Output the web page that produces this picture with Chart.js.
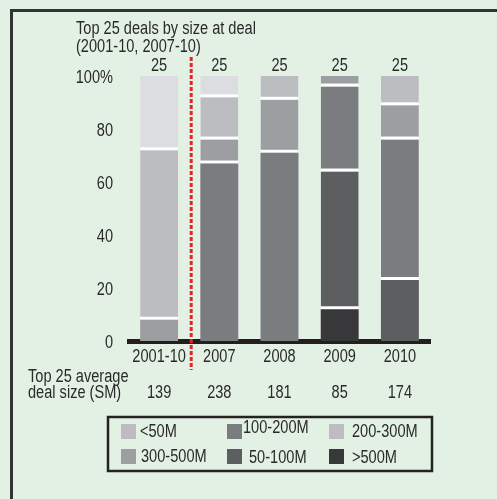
<!DOCTYPE html>
<html>
<head>
<meta charset="utf-8">
<script src="https://cdn.jsdelivr.net/npm/chart.js@4.4.1/dist/chart.umd.min.js"></script>
<style>
  html, body { margin: 0; padding: 0; background: #e3f1e5; }
  #wrap { width: 497px; height: 499px; position: relative; }
</style>
</head>
<body>
<div id="wrap"><canvas id="chart" width="497" height="499"></canvas></div>
<script>
// categories and values (percent of top 25 deals)
const periods = ["2001-10", "2007", "2008", "2009", "2010"];
const dealCounts = [25, 25, 25, 25, 25];
const avgDealSize = [139, 238, 181, 85, 174];

const over500 = [0, 0, 0, 12, 0];
const s50to100 = [0, 0, 0, 52, 23];
const s100to200 = [0, 67, 71, 32, 53];
const s300to500 = [8, 9, 20, 4, 13];
const s200to300 = [64, 16, 9, 0, 11];
const under50 = [28, 8, 0, 0, 0];

const yTicks = [0, 20, 40, 60, 80, 100];

const FONT = '"Liberation Sans", Arial, sans-serif';
const INK = "#2a2a2a";
const SQUEEZE = 0.81; // the original uses a narrow face

// white gap above every segment that sits on another one
function gapBorder(ctx) {
  const sets = ctx.chart.data.datasets;
  for (let k = 0; k < ctx.datasetIndex; k++) {
    if (sets[k].data[ctx.dataIndex] > 0) return { top: 0, left: 0, right: 0, bottom: 3 };
  }
  return 0;
}

function seg(label, data, color) {
  return {
    label: label,
    data: data,
    backgroundColor: color,
    borderColor: "#ffffff",
    borderWidth: gapBorder,
    borderSkipped: false,
    barPercentage: 0.63,
    categoryPercentage: 1
  };
}

function narrow(ctx, text, x, y, align) {
  ctx.save();
  ctx.translate(x, y);
  ctx.scale(SQUEEZE, 1);
  ctx.textAlign = align;
  ctx.textBaseline = "alphabetic";
  ctx.font = "18px " + FONT;
  ctx.fillStyle = INK;
  ctx.fillText(text, 0, 0);
  ctx.restore();
}

// legend as laid out in the box: label, col, row, text dx, text dy, swatch colour
const legendItems = [
  ["<50M", 0, 0, 19, 0, "#bcbcc0"],
  ["100-200M", 1, 0, 16, -4, "#7b7c80"],
  ["200-300M", 2, 0, 23, 0, "#bcbdc0"],
  ["300-500M", 0, 1, 20, 0, "#9d9ea2"],
  ["50-100M", 1, 1, 22, 1, "#5d5e60"],
  [">500M", 2, 1, 23, 1, "#38383a"]
];

const extras = {
  id: "extras",
  beforeDraw(chart) {
    const ctx = chart.ctx;
    ctx.save();
    ctx.strokeStyle = "#333";
    ctx.lineWidth = 3;
    ctx.beginPath();
    ctx.moveTo(11.5, 499);
    ctx.lineTo(11.5, 10.5);
    ctx.lineTo(497, 10.5);
    ctx.stroke();
    ctx.restore();
  },
  afterDraw(chart) {
    const ctx = chart.ctx;
    const x = chart.scales.x;
    const y = chart.scales.y;
    const area = chart.chartArea;

    narrow(ctx, "Top 25 deals by size at deal", 76, 34, "left");
    narrow(ctx, "(2001-10, 2007-10)", 76, 52, "left");
    narrow(ctx, "Top 25 average", 28, 382, "left");
    narrow(ctx, "deal size (SM)", 28, 398, "left");

    // y tick labels from the scale's ticks
    y.ticks.forEach((t) => {
      const txt = t.value === 100 ? "100%" : String(t.value);
      narrow(ctx, txt, 113, y.getPixelForValue(t.value) + 6.5, "right");
    });

    periods.forEach((p, i) => {
      const px = x.getPixelForValue(i);
      narrow(ctx, String(dealCounts[i]), px, 71, "center");
      narrow(ctx, p, px, 362, "center");
      narrow(ctx, String(avgDealSize[i]), px, 398, "center");
    });

    ctx.save();
    // red divider between the decade and the single years
    const xm = (x.getPixelForValue(0) + x.getPixelForValue(1)) / 2 + 2;
    ctx.strokeStyle = "#e3262b";
    ctx.lineWidth = 3;
    ctx.setLineDash([4, 2]);
    ctx.beginPath();
    ctx.moveTo(xm, area.top - 19);
    ctx.lineTo(xm, area.bottom + 29);
    ctx.stroke();
    ctx.setLineDash([]);

    // legend box
    ctx.strokeStyle = "#222";
    ctx.lineWidth = 2.5;
    ctx.strokeRect(108, 417, 324, 54);
    const colX = [121, 227, 329];
    const rowY = [424, 449];
    legendItems.forEach(([label, c, r, dx, dy, color]) => {
      ctx.fillStyle = color;
      ctx.fillRect(colX[c], rowY[r], 15, 15);
      narrow(ctx, label, colX[c] + dx, rowY[r] + 13 + dy, "left");
    });
    ctx.restore();
  }
};

new Chart(document.getElementById("chart"), {
  type: "bar",
  data: {
    labels: periods,
    datasets: [
      seg(">500M", over500, "#38383a"),
      seg("50-100M", s50to100, "#5d5e60"),
      seg("100-200M", s100to200, "#7b7c80"),
      seg("300-500M", s300to500, "#9d9ea2"),
      seg("200-300M", s200to300, "#bcbdc0"),
      seg("<50M", under50, "#dcdde0")
    ]
  },
  options: {
    responsive: false,
    animation: false,
    layout: { padding: { top: 76, right: 67, bottom: 88, left: 0 } },
    plugins: { legend: { display: false }, tooltip: { enabled: false } },
    scales: {
      x: {
        stacked: true,
        afterFit: (s) => { s.height = 70; },
        grid: { display: false, drawTicks: false },
        border: { display: true, color: "#231f20", width: 5 },
        ticks: { display: false }
      },
      y: {
        stacked: true,
        min: 0,
        max: 100,
        afterFit: (s) => { s.width = 129; },
        afterBuildTicks: (s) => { s.ticks = yTicks.map((v) => ({ value: v })); },
        grid: { display: false, drawTicks: false },
        border: { display: false },
        ticks: { display: false }
      }
    }
  },
  plugins: [extras]
});
</script>
</body>
</html>
